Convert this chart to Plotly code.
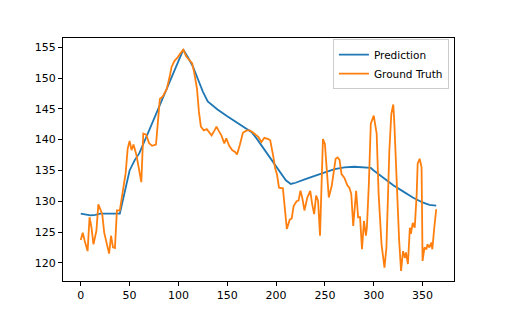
import plotly.graph_objects as go

# Prediction series (day index, value)
pred_x = [0, 5, 10, 15, 20, 30, 40, 45, 50, 55, 60, 70, 80, 90, 100, 105, 110, 115, 120, 125, 130,
          140, 150, 160, 170, 175, 180, 190, 200, 210, 215, 220, 230, 240, 250, 260, 270, 280, 290,
          297, 300, 310, 320, 330, 340, 350, 357, 364]
pred_y = [128.0, 127.8, 127.7, 127.8, 128.0, 128.0, 128.0, 131.5, 135.0, 136.6, 137.8, 141.5, 145.2,
          148.9, 152.7, 154.6, 153.3, 151.8, 149.8, 147.8, 146.2, 144.9, 143.8, 142.8, 141.8, 141.2,
          140.2, 137.9, 135.6, 133.4, 132.8, 133.0, 133.6, 134.2, 134.7, 135.2, 135.5, 135.6, 135.5,
          135.4, 135.0, 133.8, 132.6, 131.6, 130.6, 129.8, 129.4, 129.3]

# Ground truth series (day index, value)
truth_x = [0, 2, 4, 7, 9, 11, 13, 16, 18, 21, 22, 24, 27, 29, 31, 33, 35, 37, 40, 42, 44, 46, 48,
           50, 52, 54, 57, 60, 62, 64, 67, 70, 73, 77, 81, 84, 88, 91, 93, 96, 99, 102, 105, 108,
           111, 114, 116, 119, 121, 123, 126, 129, 131, 134, 137, 139, 141, 144, 147, 149, 152, 155,
           158, 160, 163, 166, 170, 173, 176, 180, 182, 185, 188, 192, 194, 197, 199, 201, 203, 207,
           209, 211, 214, 216, 218, 221, 223, 225, 227, 229, 232, 235, 237, 239, 241, 243, 245, 248,
           250, 252, 254, 257, 259, 261, 263, 265, 267, 270, 273, 275, 277, 279, 282, 284, 286, 288,
           290, 292, 293, 295, 297, 300, 303, 305, 308, 309, 311, 313, 314, 316, 318, 320, 321, 323,
           325, 326, 328, 330, 332, 333, 335, 337, 338, 340, 342, 344, 345, 347, 349, 350, 352, 354,
           355, 357, 359, 360, 362, 364]
truth_y = [123.7, 124.9, 123.6, 121.9, 127.4, 125.7, 123.0, 125.2, 129.5, 128.0, 127.9, 124.9, 122.5,
           121.5, 124.4, 122.5, 122.4, 128.5, 128.5, 130.5, 132.8, 134.6, 138.5, 139.8, 138.3, 139.2,
           137.5, 135.0, 133.1, 141.0, 140.8, 139.4, 139.0, 139.2, 146.6, 147.0, 148.2, 150.2, 151.8,
           152.8, 153.3, 154.0, 154.6, 153.5, 152.9, 152.4, 151.0, 148.3, 144.5, 142.1, 141.5, 141.7,
           141.3, 140.7, 141.5, 142.1, 141.5, 140.7, 139.4, 140.2, 139.0, 138.3, 138.0, 137.6, 139.2,
           141.1, 141.5, 141.5, 141.2, 140.7, 140.4, 139.6, 140.3, 140.1, 139.9, 137.4, 135.4, 134.3,
           132.2, 132.1, 128.8, 125.5, 127.0, 127.2, 129.2, 130.0, 130.1, 131.7, 130.4, 128.5, 130.6,
           131.7, 129.5, 127.9, 130.9, 130.1, 124.4, 140.1, 139.3, 134.8, 130.6, 132.5, 135.0, 136.9,
           137.1, 136.7, 134.4, 133.8, 132.6, 132.2, 131.2, 126.0, 131.7, 127.4, 127.4, 122.2, 126.8,
           124.4, 125.7, 132.8, 142.6, 143.9, 141.0, 131.2, 123.0, 121.4, 119.2, 122.5, 129.5, 138.2,
           144.2, 145.7, 143.0, 134.5, 124.8, 123.7, 118.7, 121.9, 120.8, 121.7, 119.8, 125.7, 124.7,
           126.5, 125.7, 131.2, 136.1, 136.9, 135.5, 120.3, 122.5, 122.2, 123.0, 122.5, 123.3, 122.2,
           125.7, 128.7]

x_ticks = [0, 50, 100, 150, 200, 250, 300, 350]
y_ticks = [120, 125, 130, 135, 140, 145, 150, 155]

fig = go.Figure()
fig.add_trace(go.Scatter(x=pred_x, y=pred_y, mode="lines", name="Prediction",
                         line=dict(color="#1f77b4", width=1.8)))
fig.add_trace(go.Scatter(x=truth_x, y=truth_y, mode="lines", name="Ground Truth",
                         line=dict(color="#ff7f0e", width=1.8)))

axis_common = dict(showgrid=False, zeroline=False, showline=True, linecolor="black",
                   linewidth=1, mirror=True, ticks="outside", ticklen=4, tickcolor="black",
                   tickwidth=1, tickfont=dict(family="DejaVu Sans", size=11, color="black"))

# the page body adds an 8px offset, so the figure is sized to fit the 505x316 window
fig.update_layout(
    width=497, height=308,
    margin=dict(l=55, r=51, t=30, b=35),
    paper_bgcolor="white", plot_bgcolor="white",
    xaxis=dict(range=[-18.2, 382.2], tickvals=x_ticks, **axis_common),
    yaxis=dict(range=[117.05, 156.5], tickvals=y_ticks, **axis_common),
    legend=dict(x=0.987, y=0.995, xanchor="right", yanchor="top",
                bordercolor="#cccccc", borderwidth=1, bgcolor="rgba(255,255,255,0.8)",
                font=dict(family="DejaVu Sans", size=10.5, color="black"),
                tracegroupgap=0, itemwidth=30),
    showlegend=True,
)

fig.write_html("out.html")
